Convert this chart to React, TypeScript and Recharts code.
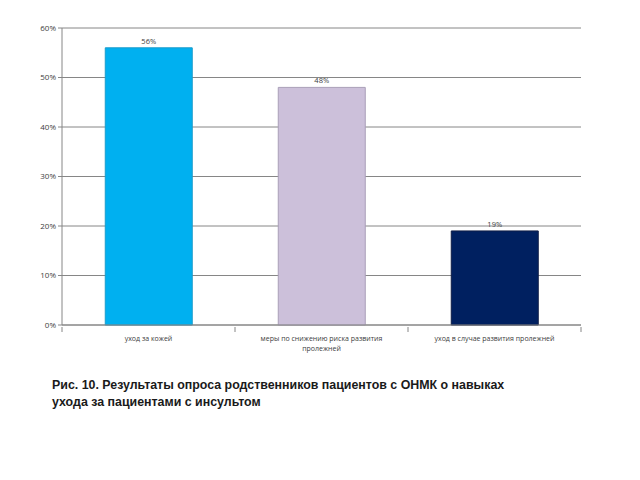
import { BarChart, Bar, XAxis, YAxis, CartesianGrid, Cell, LabelList } from "recharts"

const categories = [
  "уход за кожей",
  "меры по снижению риска развития пролежней",
  "уход в случае развития пролежней",
]
const values = [56, 48, 19]
const colors = ["#00B0F0", "#CCC0DA", "#002060"]
const strokes = ["#1A9CCB", "#A99FB8", "#0F1C45"]
const yTicks = [0, 10, 20, 30, 40, 50, 60]

const caption = [
  "Рис. 10. Результаты опроса родственников пациентов с ОНМК о навыках",
  "ухода за пациентами с инсультом",
]

const data = categories.map((name, i) => ({ name, value: values[i] }))

const FONT = "'Open Sans', 'DejaVu Sans', sans-serif"

// simple greedy wrap by character count
function wrap(s: string, max: number) {
  const lines: string[] = []
  let cur = ""
  for (const w of s.split(" ")) {
    if (cur && (cur + " " + w).length > max) {
      lines.push(cur)
      cur = w
    } else {
      cur = cur ? cur + " " + w : w
    }
  }
  if (cur) lines.push(cur)
  return lines
}

function CategoryTick(props: any) {
  const { x, y, payload, index, visibleTicksCount } = props
  const half = payload.offset || 0
  const lines = wrap(String(payload.value), 33)
  return (
    <g>
      <line x1={x - half} x2={x - half} y1={y - 8} y2={y - 3} stroke="#868686" />
      {index === visibleTicksCount - 1 && (
        <line x1={x + half} x2={x + half} y1={y - 8} y2={y - 3} stroke="#868686" />
      )}
      <text x={x} y={y + 6} textAnchor="middle" fontSize={7} fontFamily={FONT} fill="#404040">
        {lines.map((l, i) => (
          <tspan key={i} x={x} dy={i === 0 ? 0 : 10}>
            {l}
          </tspan>
        ))}
      </text>
    </g>
  )
}

export default function App() {
  return (
    <div style={{ position: "absolute", left: 0, top: 0, width: 640, height: 480, background: "#fff" }}>
      <BarChart
        width={640}
        height={370}
        data={data}
        margin={{ top: 28, right: 59, bottom: 5, left: 0 }}
        barCategoryGap="25%"
      >
        <CartesianGrid vertical={false} stroke="#868686" strokeWidth={1} />
        <YAxis
          width={62}
          domain={[0, 60]}
          ticks={yTicks}
          interval={0}
          tickFormatter={(v: number) => `${v}%`}
          axisLine={{ stroke: "#868686" }}
          tickLine={{ stroke: "#868686" }}
          tickSize={4}
          tick={{ fontSize: 8, fontFamily: FONT, fill: "#404040" }}
        />
        <XAxis
          dataKey="name"
          height={40}
          interval={0}
          axisLine={{ stroke: "#868686" }}
          tickLine={false}
          tickSize={8}
          tick={<CategoryTick />}
        />
        <Bar dataKey="value" isAnimationActive={false} strokeWidth={1}>
          {data.map((_, i) => (
            <Cell key={`c-${i}`} fill={colors[i]} stroke={strokes[i]} />
          ))}
          <LabelList
            dataKey="value"
            position="top"
            offset={4}
            formatter={(v: any) => `${v}%`}
            style={{ fontSize: 7.5, fontFamily: FONT, fill: "#404040" }}
          />
        </Bar>
      </BarChart>
      <div
        style={{
          position: "absolute",
          left: 52,
          top: 377,
          fontFamily: "'Liberation Sans', Arial, sans-serif",
          fontWeight: "bold",
          fontSize: 12.4,
          lineHeight: "17px",
          color: "#1a1a1a",
        }}
      >
        {caption.map((line, i) => (
          <div key={i}>{line}</div>
        ))}
      </div>
    </div>
  )
}
